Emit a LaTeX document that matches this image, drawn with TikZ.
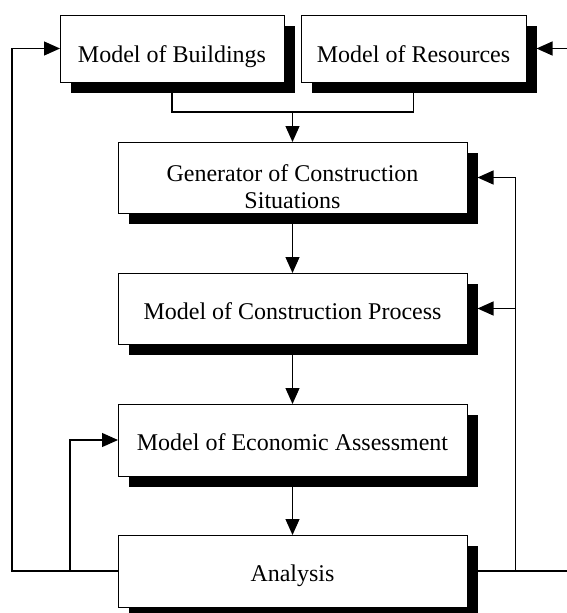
\documentclass[tikz,border=0pt]{standalone}
\usepackage{fontspec}
\setmainfont{Liberation Serif}
\usetikzlibrary{arrows.meta,shadows}
\begin{document}
\begin{tikzpicture}[x=1pt,y=-1pt,
  block/.style={draw=black, line width=1pt, fill=white, inner sep=0pt, outer sep=0pt,
    align=center, font=\fontsize{24}{27}\selectfont,
    drop shadow={shadow xshift=10.5pt, shadow yshift=-10.5pt, fill=black, opacity=1}},
  topblock/.style={block, minimum width=224pt, minimum height=67pt,
    text height=30pt, text depth=3pt},
  midblock/.style={block, minimum width=349pt, minimum height=71pt,
    text height=24pt, text depth=3pt},
  link/.style={line width=1.2pt},
  arr/.style={link, -{Triangle[length=16pt,width=14pt]}}]
  \clip (0,0) rectangle (567,613);
  \useasboundingbox (0,0) rectangle (567,613);

  % blocks
  \node[topblock] (build) at (172,48.5) {Model of Buildings};
  \node[topblock, minimum width=225pt] (res) at (413.5,48.5) {Model of Resources};
  \node[midblock, text height=64pt] (gen) at (292.5,177.5) {Generator of Construction\\Situations};
  \node[midblock] (proc) at (292.5,308.5) {Model of Construction Process};
  \node[midblock, minimum height=72pt] (econ) at (292.5,440) {Model of Economic Assessment};
  \node[midblock, minimum height=72pt] (anal) at (292.5,571) {Analysis};

  % junction points of the connectors
  \coordinate (join) at (292.5,112);
  \coordinate (leftOut) at (12,571);
  \coordinate (leftIn) at (70,571);
  \coordinate (rightEdge) at (567,571);
  \coordinate (rightTop) at (567,48.5);
  \coordinate (rightJ) at (515.5,571);
  \coordinate (rightMid) at (515.5,308.5);

  % main flow
  \draw[link] (build.south) |- (join) -| (res.south);
  \draw[arr] (join) -- (gen.north);
  \draw[arr] (gen.south) -- (proc.north);
  \draw[arr] (proc.south) -- (econ.north);
  \draw[arr] (econ.south) -- (anal.north);

  % feedback from the analysis
  \draw[arr] (anal.west) -- (leftOut) |- (build.west);
  \draw[arr] (leftIn) |- (econ.west);
  \draw[link] (anal.east) -- (rightEdge);
  \draw[arr] (rightTop) -- ([xshift=10.5pt]res.east);
  \draw[arr] (rightJ) |- ([xshift=10.5pt]gen.east);
  \draw[arr] (rightMid) -- ([xshift=10.5pt]proc.east);
\end{tikzpicture}
\end{document}
